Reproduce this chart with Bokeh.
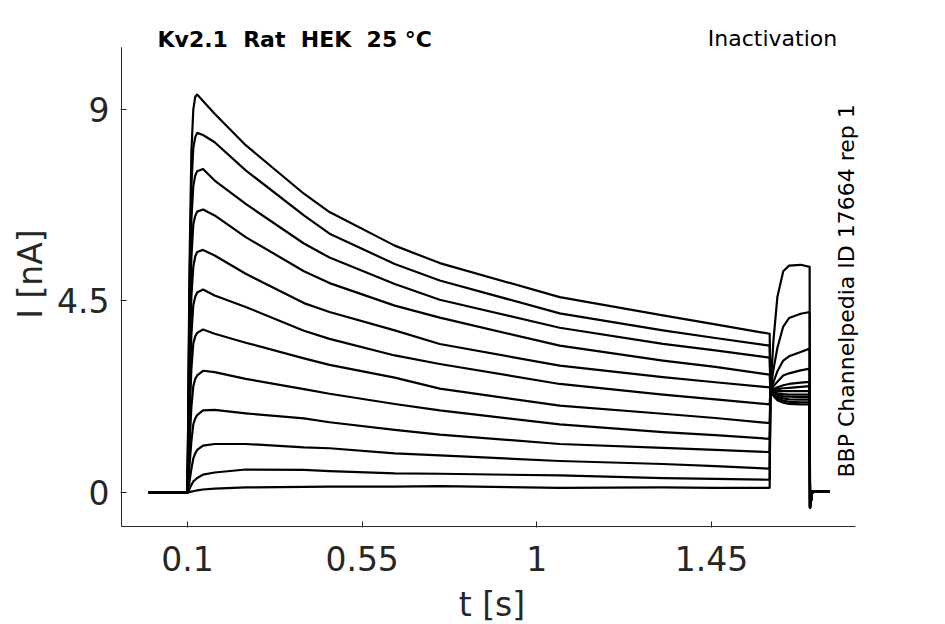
import math
from bokeh.plotting import figure
from bokeh.models import Range1d, FixedTicker, CustomJSTickFormatter, Label
from bokeh.embed import file_html
from bokeh.resources import INLINE

# ---------------- data ----------------
t_s = [0.0, 0.1, 0.105, 0.11, 0.115, 0.12, 0.125, 0.14, 0.17, 0.25, 0.40, 0.466, 0.634,
       0.75, 1.059, 1.325, 1.46, 1.6, 1.602, 1.61, 1.62, 1.635, 1.65, 1.68, 1.703,
       1.704, 1.710, 1.755]

trace_01 = [0, 0, 5.2, 8.0, 9.0, 9.3, 9.35, 9.2, 8.90, 8.16, 7.02, 6.59, 5.80, 5.39, 4.59, 4.16, 3.95, 3.73,
            2.4, 3.6, 4.6, 5.2, 5.33, 5.35, 5.3, -0.35, 0.03, 0.03]
trace_02 = [0, 0, 4.7, 7.2, 8.1, 8.35, 8.45, 8.4, 8.23, 7.57, 6.51, 6.08, 5.37, 4.98, 4.21, 3.81, 3.63, 3.45,
            2.4, 2.9, 3.4, 3.9, 4.1, 4.2, 4.24, -0.35, 0.03, 0.03]
trace_03 = [0, 0, 4.1, 6.4, 7.2, 7.45, 7.55, 7.6, 7.33, 6.78, 5.85, 5.52, 4.90, 4.53, 3.87, 3.49, 3.34, 3.17,
            2.4, 2.6, 2.85, 3.1, 3.2, 3.3, 3.38, -0.35, 0.03, 0.03]
trace_04 = [0, 0, 3.5, 5.5, 6.3, 6.5, 6.6, 6.65, 6.51, 6.0, 5.20, 4.92, 4.39, 4.11, 3.45, 3.10, 2.95, 2.77,
            2.4, 2.5, 2.6, 2.75, 2.8, 2.87, 2.91, -0.35, 0.03, 0.03]
trace_05 = [0, 0, 2.9, 4.6, 5.3, 5.55, 5.65, 5.7, 5.57, 5.14, 4.45, 4.24, 3.81, 3.49, 2.98, 2.71, 2.59, 2.47,
            2.4, 2.43, 2.47, 2.52, 2.55, 2.58, 2.6, -0.35, 0.03, 0.03]
trace_06 = [0, 0, 2.3, 3.7, 4.4, 4.6, 4.7, 4.77, 4.63, 4.36, 3.80, 3.61, 3.22, 3.02, 2.55, 2.30, 2.19, 2.07,
            2.4, 2.42, 2.43, 2.45, 2.46, 2.48, 2.5, -0.35, 0.03, 0.03]
trace_07 = [0, 0, 1.7, 2.9, 3.5, 3.67, 3.75, 3.83, 3.73, 3.52, 3.15, 3.00, 2.70, 2.44, 2.04, 1.85, 1.75, 1.63,
            2.4, 2.39, 2.38, 2.38, 2.38, 2.38, 2.38, -0.35, 0.03, 0.03]
trace_08 = [0, 0, 1.1, 2.0, 2.5, 2.67, 2.75, 2.86, 2.83, 2.67, 2.43, 2.32, 2.08, 1.93, 1.60, 1.42, 1.35, 1.26,
            2.4, 2.36, 2.33, 2.31, 2.3, 2.3, 2.3, -0.35, 0.03, 0.03]
trace_09 = [0, 0, 0.6, 1.2, 1.6, 1.74, 1.82, 1.93, 1.94, 1.86, 1.74, 1.65, 1.47, 1.36, 1.14, 1.05, 1.0, 0.95,
            2.4, 2.34, 2.29, 2.26, 2.25, 2.24, 2.24, -0.35, 0.03, 0.03]
trace_10 = [0, 0, 0.25, 0.55, 0.8, 0.92, 1.0, 1.1, 1.14, 1.14, 1.06, 1.04, 0.92, 0.87, 0.74, 0.67, 0.62, 0.56,
            2.4, 2.32, 2.25, 2.21, 2.19, 2.18, 2.18, -0.35, 0.03, 0.03]
trace_11 = [0, 0, 0.08, 0.18, 0.26, 0.30, 0.34, 0.42, 0.47, 0.54, 0.53, 0.50, 0.45, 0.44, 0.40, 0.34, 0.32, 0.30,
            2.4, 2.3, 2.21, 2.16, 2.13, 2.12, 2.12, -0.35, 0.03, 0.03]
trace_12 = [0, 0, 0.01, 0.02, 0.03, 0.04, 0.05, 0.07, 0.09, 0.12, 0.13, 0.14, 0.14, 0.15, 0.11, 0.12, 0.11, 0.11,
            2.4, 2.27, 2.17, 2.11, 2.08, 2.07, 2.07, -0.35, 0.03, 0.03]

traces = [trace_01, trace_02, trace_03, trace_04, trace_05, trace_06,
          trace_07, trace_08, trace_09, trace_10, trace_11, trace_12]

x_ticks = [0.1, 0.55, 1, 1.45]
y_ticks = [0, 4.5, 9]

# extent of the drawn axes box (data units)
x_min, x_max = -0.070, 1.821
y_min, y_max = -0.80, 10.46

# double spaces kept visible with a non-breaking space
title_text = "Kv2.1 \u00a0Rat \u00a0HEK \u00a025 \u00b0C"
protocol_text = "Inactivation"
source_text = "BBP Channelpedia ID 17664 rep 1"
x_label = "t [s]"
y_label = "I [nA]"

# ---------------- figure ----------------
FONT = "DejaVu Sans"
GRAY = "#262626"

p = figure(frame_width=743, frame_height=507,
           x_range=Range1d(-0.0726, 1.8418), y_range=Range1d(-0.8224, 11.09),
           output_backend="svg", toolbar_location=None,
           min_border_left=120, min_border_right=60,
           min_border_top=20, min_border_bottom=90)
p.outline_line_color = None
p.xgrid.visible = False
p.ygrid.visible = False
p.background_fill_color = "white"
p.border_fill_color = "white"

# axis spines (left and bottom only, as in the reference)
p.segment(x0=[x_min, x_min], y0=[y_min, y_min], x1=[x_min, x_max], y1=[y_max, y_min],
          line_color=GRAY, line_width=1)

for tr in traces:
    p.line(t_s, tr, line_color="black", line_width=2.2, line_join="round")

fmt = "return tick.toString();"
for ax, ticks in ((p.xaxis[0], x_ticks), (p.yaxis[0], y_ticks)):
    ax.ticker = FixedTicker(ticks=ticks)
    ax.formatter = CustomJSTickFormatter(code=fmt)
    ax.minor_tick_line_color = None
    ax.major_tick_in = 6
    ax.major_tick_out = 0
    ax.axis_line_color = None
    ax.major_tick_line_color = GRAY
    ax.major_label_text_font = FONT
    ax.major_label_text_font_size = "33px"
    ax.major_label_text_color = GRAY
    ax.axis_label_text_font = FONT
    ax.axis_label_text_font_size = "33px"
    ax.axis_label_text_font_style = "normal"
    ax.axis_label_text_color = GRAY

p.xaxis[0].axis_label = x_label
p.yaxis[0].axis_label = y_label
p.xaxis[0].major_label_standoff = 18
p.xaxis[0].axis_label_standoff = 11
p.yaxis[0].major_label_standoff = 11
p.yaxis[0].axis_label_standoff = 4

p.add_layout(Label(x=0.0227, y=10.65, text=title_text, text_font=FONT,
                   text_font_size="22px", text_font_style="bold",
                   text_color="black", text_baseline="alphabetic", text_align="left"))
p.add_layout(Label(x=1.774, y=10.67, text=protocol_text, text_font=FONT,
                   text_font_size="22px", text_color="black",
                   text_baseline="alphabetic", text_align="right"))
p.add_layout(Label(x=1.798, y=0.353, text=source_text, text_font=FONT,
                   text_font_size="22px", text_color="black", angle=math.pi / 2,
                   text_baseline="alphabetic", text_align="left"))

open("out.html", "w").write(file_html(p, INLINE))
